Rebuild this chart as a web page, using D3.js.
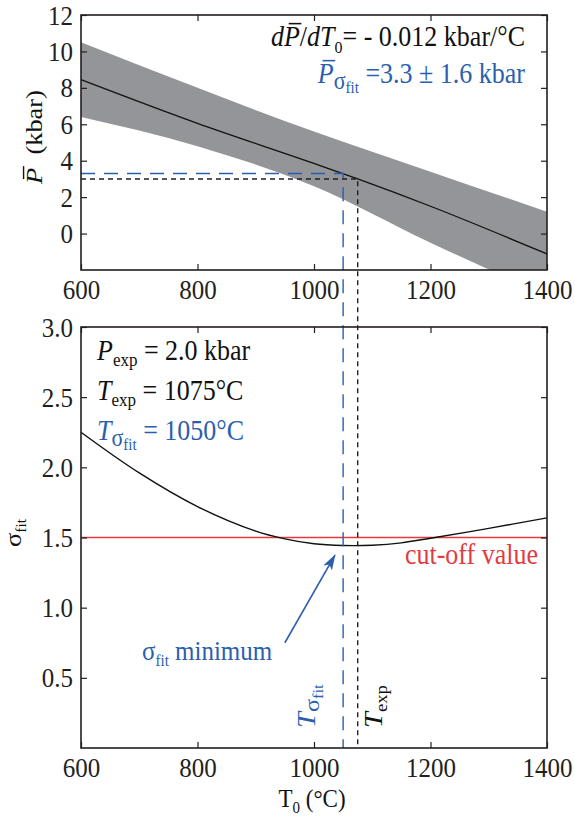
<!DOCTYPE html>
<html>
<head>
<meta charset="utf-8">
<script src="https://cdn.jsdelivr.net/npm/d3@7"></script>
<style>
  body { margin: 0; background: #fff; }
  svg { display: block; }
  svg text { font-family: "Liberation Serif", "DejaVu Serif", "Times New Roman", serif; }
</style>
</head>
<body>
<div id="chart"></div>
<script>
// ---- data ----
const tempTicks = [600, 800, 1000, 1200, 1400];
const pTicks = [0, 2, 4, 6, 8, 10, 12];
const sigmaTicks = [0.5, 1.0, 1.5, 2.0, 2.5, 3.0];

// mean pressure line and its band (top panel)
const lineT = [600, 800, 1000, 1075, 1200, 1400];
const lineP = [8.45, 6.05, 3.85, 3.0, 1.5, -1.12];
const bandT = [600, 800, 1000, 1200, 1400];
const bandHi = [10.5, 8.0, 5.6, 3.4, 1.2];
const bandLo = [6.4, 4.8, 2.6, -0.5, -3.4];

// sigma_fit curve (bottom panel)
const sigmaT = [600, 700, 800, 900, 950, 1000, 1050, 1100, 1150, 1200, 1300, 1400];
const sigmaV = [2.25, 1.96, 1.72, 1.545, 1.49, 1.455, 1.443, 1.445, 1.462, 1.495, 1.565, 1.64];

const cutoff = 1.5;
const tExp = 1075, pAtTexp = 3.0;
const tSigma = 1050, pSigma = 3.3;
const arrowFrom = [950, 0.75], arrowTo = [1036, 1.375];

const blue = "#2b5fae", red = "#e23b3f", gray = "#939598";
const serif = "Liberation Serif, DejaVu Serif, Times New Roman, serif";
const stretch = 1.1;   // the glyphs in the figure are a bit taller than wide

const width = 575, height = 816;
const left = 81, right = 547;
const topY = [15, 270], botY = [327, 748];

const svg = d3.select("#chart").append("svg")
    .attr("width", width).attr("height", height);

const x = d3.scaleLinear().domain([600, 1400]).range([left, right]);
const yP = d3.scaleLinear().domain([-2, 12]).range([topY[1], topY[0]]);
const yS = d3.scaleLinear().domain([0, 3]).range([botY[1], botY[0]]);

// text helper: group at (x,y), vertically stretched, optional rotation
function label(px, py, size, color, anchor, rot) {
  const g = svg.append("g")
      .attr("transform", `translate(${px},${py}) scale(1,${stretch})` + (rot ? " rotate(-90)" : ""));
  const t = g.append("text")
      .attr("font-family", serif)
      .attr("font-size", size)
      .attr("fill", color)
      .attr("text-anchor", anchor || "start");
  return { g, t };
}
function span(t, s, opt) {
  opt = opt || {};
  const ts = t.append("tspan").text(s);
  if (opt.italic) ts.attr("font-style", "italic");
  if (opt.size) ts.attr("font-size", opt.size);
  if (opt.dy) ts.attr("dy", opt.dy);
  return ts;
}
function overline(lab, idx, color) {
  const e = lab.t.node().getExtentOfChar(idx);
  lab.g.append("line")
      .attr("x1", e.x + e.width * 0.3).attr("x2", e.x + e.width + 1.5)
      .attr("y1", e.y + 2.5).attr("y2", e.y + 2.5)
      .attr("stroke", color).attr("stroke-width", 1.4);
}

// ---- axes for a panel ----
function frame(yScale, yr, ticks, fmt) {
  const g = svg.append("g");
  g.append("g").attr("transform", `translate(0,${yr[1]})`)
      .call(d3.axisBottom(x).tickValues(tempTicks).tickSize(-6).tickSizeOuter(0).tickFormat(d3.format("d")));
  g.append("g").attr("transform", `translate(0,${yr[0]})`)
      .call(d3.axisTop(x).tickValues(tempTicks).tickSize(-6).tickSizeOuter(0).tickFormat(""));
  g.append("g").attr("transform", `translate(${left},0)`)
      .call(d3.axisLeft(yScale).tickValues(ticks).tickSize(-6).tickSizeOuter(0).tickFormat(fmt));
  g.append("g").attr("transform", `translate(${right},0)`)
      .call(d3.axisRight(yScale).tickValues(ticks).tickSize(-6).tickSizeOuter(0).tickFormat(""));
  g.selectAll(".domain").remove();
  g.selectAll("g").attr("font-family", serif);
  g.selectAll(".tick line").attr("stroke", "#231f20").attr("stroke-width", 1.2);
  g.selectAll("text").attr("font-family", serif).attr("font-size", 25).attr("fill", "#231f20");
  g.selectAll("g").filter(function () { return this.parentNode === g.node(); })
    .each(function (d, i) {
      const tx = d3.select(this).selectAll(".tick text");
      if (i === 0) tx.attr("y", null).attr("dy", null).attr("transform", `translate(0,29) scale(1,${stretch})`);
      if (i === 2) tx.attr("x", null).attr("dy", null).attr("transform", `translate(-8,9) scale(1,${stretch})`);
    });
  g.append("rect")
      .attr("x", left).attr("y", yr[0]).attr("width", right - left).attr("height", yr[1] - yr[0])
      .attr("fill", "none").attr("stroke", "#231f20").attr("stroke-width", 1.6);
  return g;
}

// ---- top panel ----
svg.append("clipPath").attr("id", "clipTop").append("rect")
    .attr("x", left).attr("y", topY[0]).attr("width", right - left).attr("height", topY[1] - topY[0]);

const band = bandT.map((t, i) => ({ t, hi: bandHi[i], lo: bandLo[i] }));
svg.append("path")
    .datum(band)
    .attr("clip-path", "url(#clipTop)")
    .attr("fill", gray)
    .attr("d", d3.area().x(d => x(d.t)).y0(d => yP(d.lo)).y1(d => yP(d.hi)).curve(d3.curveMonotoneX));

svg.append("path")
    .datum(lineT.map((t, i) => [t, lineP[i]]))
    .attr("fill", "none").attr("stroke", "#111").attr("stroke-width", 1.3)
    .attr("d", d3.line().x(d => x(d[0])).y(d => yP(d[1])).curve(d3.curveMonotoneX));

// ---- bottom panel ----
svg.append("line")
    .attr("x1", x(600)).attr("x2", x(1400)).attr("y1", yS(cutoff)).attr("y2", yS(cutoff))
    .attr("stroke", red).attr("stroke-width", 1.6);

svg.append("path")
    .datum(sigmaT.map((t, i) => [t, sigmaV[i]]))
    .attr("fill", "none").attr("stroke", "#111").attr("stroke-width", 1.4)
    .attr("d", d3.line().x(d => x(d[0])).y(d => yS(d[1])).curve(d3.curveCatmullRom));

// ---- guide lines crossing both panels ----
svg.append("path")
    .attr("d", `M${x(600)},${yP(pSigma)}H${x(tSigma)}V${yS(0)}`)
    .attr("fill", "none").attr("stroke", blue).attr("stroke-width", 1.4).attr("stroke-dasharray", "14,9");
svg.append("path")
    .attr("d", `M${x(600)},${yP(pAtTexp)}H${x(tExp)}V${yS(0)}`)
    .attr("fill", "none").attr("stroke", "#231f20").attr("stroke-width", 1.4).attr("stroke-dasharray", "5,4");

frame(yP, topY, pTicks, d3.format("d"));
frame(yS, botY, sigmaTicks, d3.format(".1f"));

// arrow to the minimum
svg.append("defs").append("marker")
    .attr("id", "head").attr("markerUnits", "userSpaceOnUse")
    .attr("viewBox", "0 0 16 10").attr("refX", 15).attr("refY", 5)
    .attr("markerWidth", 16).attr("markerHeight", 10).attr("orient", "auto")
  .append("path").attr("d", "M0,0L16,5L0,10L4,5Z").attr("fill", blue);
svg.append("line")
    .attr("x1", x(arrowFrom[0])).attr("y1", yS(arrowFrom[1]))
    .attr("x2", x(arrowTo[0])).attr("y2", yS(arrowTo[1]))
    .attr("stroke", blue).attr("stroke-width", 1.6).attr("marker-end", "url(#head)");

// ---- annotations ----
let a = label(525, 46, 26, "#111", "end");
span(a.t, "d", { italic: true }); span(a.t, "P", { italic: true }); span(a.t, "/");
span(a.t, "d", { italic: true }); span(a.t, "T", { italic: true });
span(a.t, "0", { size: 16, dy: 6 }); span(a.t, "= - 0.012 kbar/°C", { dy: -6 });
overline(a, 1, "#111");

a = label(525, 83, 26, blue, "end");
span(a.t, "P", { italic: true });
span(a.t, "σ", { size: 22, dy: 5 }); span(a.t, "fit", { size: 15, dy: 4 });
span(a.t, " =3.3 ± 1.6 kbar", { dy: -9 });
overline(a, 0, blue);

a = label(97, 360, 26, "#111");
span(a.t, "P", { italic: true }); span(a.t, "exp", { size: 17, dy: 5 }); span(a.t, " = 2.0 kbar", { dy: -5 });
a = label(97, 400, 26, "#111");
span(a.t, "T", { italic: true }); span(a.t, "exp", { size: 17, dy: 5 }); span(a.t, " = 1075°C", { dy: -5 });
a = label(97, 440, 26, blue);
span(a.t, "T", { italic: true });
span(a.t, "σ", { size: 22, dy: 5 }); span(a.t, "fit", { size: 15, dy: 4 });
span(a.t, " = 1050°C", { dy: -9 });

a = label(538, yS(cutoff) + 26, 26, red, "end");
span(a.t, "cut-off value");

a = label(142, 660, 25, blue);
span(a.t, "σ"); span(a.t, "fit", { size: 15, dy: 5 }); span(a.t, " minimum", { dy: -5 });

// labels along the guide lines
a = label(x(tSigma) - 28, 728, 26, blue, "start", true);
span(a.t, "T", { italic: true });
span(a.t, "σ", { size: 22, dy: 4 }); span(a.t, "fit", { size: 15, dy: 4 });
a = label(x(tExp) + 24, 728, 26, "#111", "start", true);
span(a.t, "T", { italic: true }); span(a.t, "exp", { size: 17, dy: 5 });

// axis titles
a = label(42, 137, 24, "#111", "middle", true);
span(a.t, "P", { italic: true }); span(a.t, "\u00a0 (kbar)");
overline(a, 0, "#111");

a = label(21, 533, 24, "#111", "middle", true);
span(a.t, "σ"); span(a.t, "fit", { size: 14, dy: 5 });

a = label(312, 807, 23, "#111", "middle");
span(a.t, "T"); span(a.t, "0", { size: 15, dy: 5 }); span(a.t, " (°C)", { dy: -5 });
</script>
</body>
</html>
